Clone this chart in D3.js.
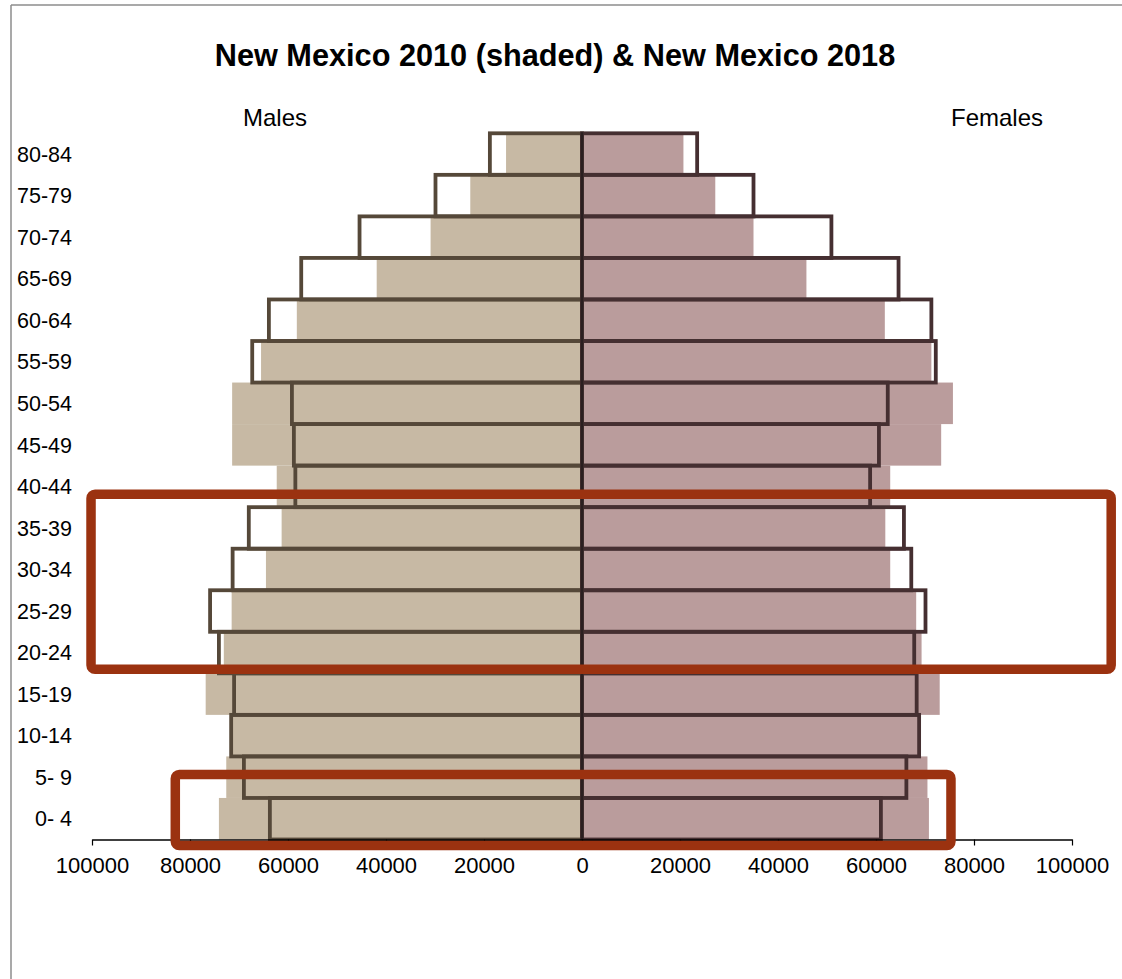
<!DOCTYPE html>
<html>
<head>
<meta charset="utf-8">
<script src="https://cdn.jsdelivr.net/npm/d3@7"></script>
<style>
  html, body { margin: 0; padding: 0; background: #fff; }
  svg { display: block; font-family: "Liberation Sans", Arial, sans-serif; }
</style>
</head>
<body>
<svg id="chart" width="1122" height="979"></svg>
<script>
// Age groups, bottom to top
const ageGroups = ["0- 4","5- 9","10-14","15-19","20-24","25-29","30-34","35-39","40-44",
                   "45-49","50-54","55-59","60-64","65-69","70-74","75-79","80-84"];
// 2010 (shaded)
const males2010   = [74100,72600,71700,76800,73100,71500,64500,61300,62300,71400,71400,65500,58200,41900,30900,22800,15500];
const females2010 = [70800,70500,69000,73000,69300,68200,62900,61900,62900,73300,75700,71300,61800,45800,35000,27200,20700];
// 2018 (outlined)
const males2018   = [63700,69000,71600,71000,74100,75900,71300,68000,58500,58800,59200,67300,63900,57300,45400,29900,18800];
const females2018 = [61000,66200,68800,68300,67800,70100,67200,65700,58800,60600,62400,72200,71300,64600,50900,35000,23500];
// Axis ticks (signed: males negative)
const tickValues = [-100000,-80000,-60000,-40000,-20000,0,20000,40000,60000,80000,100000];
const titleText = "New Mexico 2010 (shaded) & New Mexico 2018";

const svg = d3.select("#chart");
const W = 1122, H = 979;
const x0 = 92, x1 = 1072, yTop = 133.3, yBottom = 839.5;

const x = d3.scaleLinear().domain([-100000, 100000]).range([x0, x1]);
const y = d3.scaleBand().domain(ageGroups.slice().reverse()).range([yTop, yBottom]).padding(0);

const colors = {
  maleFill: "#c7b9a4", femaleFill: "#ba9c9c",
  maleLine: "#554839", femaleLine: "#452f31",
  center: "#2b1f20", red: "#9b3210", frame: "#8c8c8c"
};

// Frame (top & left)
svg.append("line").attr("x1", 11).attr("x2", W).attr("y1", 5).attr("y2", 5)
  .attr("stroke", colors.frame).attr("stroke-width", 1.5);
svg.append("line").attr("x1", 11).attr("x2", 11).attr("y1", 5).attr("y2", H)
  .attr("stroke", colors.frame).attr("stroke-width", 1.5);

// Title
svg.append("text").attr("x", 555).attr("y", 66).attr("text-anchor", "middle")
  .attr("font-size", 30.7).attr("font-weight", "bold").attr("fill", "#000").text(titleText);
svg.append("text").attr("x", 243).attr("y", 126).attr("font-size", 24).text("Males");
svg.append("text").attr("x", 951).attr("y", 126).attr("font-size", 24).text("Females");

const rows = ageGroups.map((a, i) => ({
  age: a, m10: males2010[i], f10: females2010[i], m18: males2018[i], f18: females2018[i]
}));

// Shaded 2010 bars
svg.append("g").selectAll("rect.m10").data(rows).join("rect")
  .attr("x", d => x(-d.m10)).attr("width", d => x(0) - x(-d.m10))
  .attr("y", d => y(d.age)).attr("height", y.bandwidth())
  .attr("fill", colors.maleFill);
svg.append("g").selectAll("rect.f10").data(rows).join("rect")
  .attr("x", x(0)).attr("width", d => x(d.f10) - x(0))
  .attr("y", d => y(d.age)).attr("height", y.bandwidth())
  .attr("fill", colors.femaleFill);

// 2018 outlines
svg.append("g").selectAll("rect.m18").data(rows).join("rect")
  .attr("x", d => x(-d.m18)).attr("width", d => x(0) - x(-d.m18))
  .attr("y", d => y(d.age)).attr("height", y.bandwidth())
  .attr("fill", "none").attr("stroke", colors.maleLine).attr("stroke-width", 3.8);
svg.append("g").selectAll("rect.f18").data(rows).join("rect")
  .attr("x", x(0)).attr("width", d => x(d.f18) - x(0))
  .attr("y", d => y(d.age)).attr("height", y.bandwidth())
  .attr("fill", "none").attr("stroke", colors.femaleLine).attr("stroke-width", 3.8);

// Center line
svg.append("line").attr("x1", x(0)).attr("x2", x(0)).attr("y1", yTop - 1).attr("y2", yBottom)
  .attr("stroke", colors.center).attr("stroke-width", 2.6);

// Category labels
svg.append("g").selectAll("text").data(ageGroups).join("text")
  .attr("x", 72).attr("y", d => y(d) + y.bandwidth() / 2 + 7.7)
  .attr("text-anchor", "end").attr("font-size", 21.5).attr("fill", "#000")
  .attr("xml:space", "preserve").style("white-space", "pre")
  .text(d => d);

// X axis
const axis = d3.axisBottom(x).tickValues(tickValues).tickSize(6).tickSizeOuter(0)
  .tickFormat(d => String(Math.abs(d)));
const gAxis = svg.append("g").attr("transform", `translate(0,${yBottom})`).call(axis);
gAxis.select(".domain").attr("stroke", "#000").attr("stroke-width", 1.3);
gAxis.selectAll(".tick line").attr("stroke", "#000").attr("stroke-width", 1.2);
gAxis.selectAll(".tick text").attr("font-size", 22).attr("fill", "#000")
  .attr("font-family", "'Liberation Sans', Arial, sans-serif").attr("dy", null).attr("y", 33.7);

// Highlight boxes (annotations), defined in data units / bands
const highlights = [
  { from: -100200, to: 108000, topAge: "35-39", topOff: -13, bottomAge: "20-24", bottomOff: -4 },
  { from: -83000, to: 75300, topAge: "5- 9", topOff: 18, bottomAge: "0- 4", bottomOff: 6 }
];
svg.append("g").selectAll("rect").data(highlights).join("rect")
  .attr("x", d => x(d.from)).attr("width", d => x(d.to) - x(d.from))
  .attr("y", d => y(d.topAge) + d.topOff)
  .attr("height", d => (y(d.bottomAge) + y.bandwidth() + d.bottomOff) - (y(d.topAge) + d.topOff))
  .attr("rx", 4).attr("ry", 4)
  .attr("fill", "none").attr("stroke", colors.red).attr("stroke-width", 9.5);
</script>
</body>
</html>
